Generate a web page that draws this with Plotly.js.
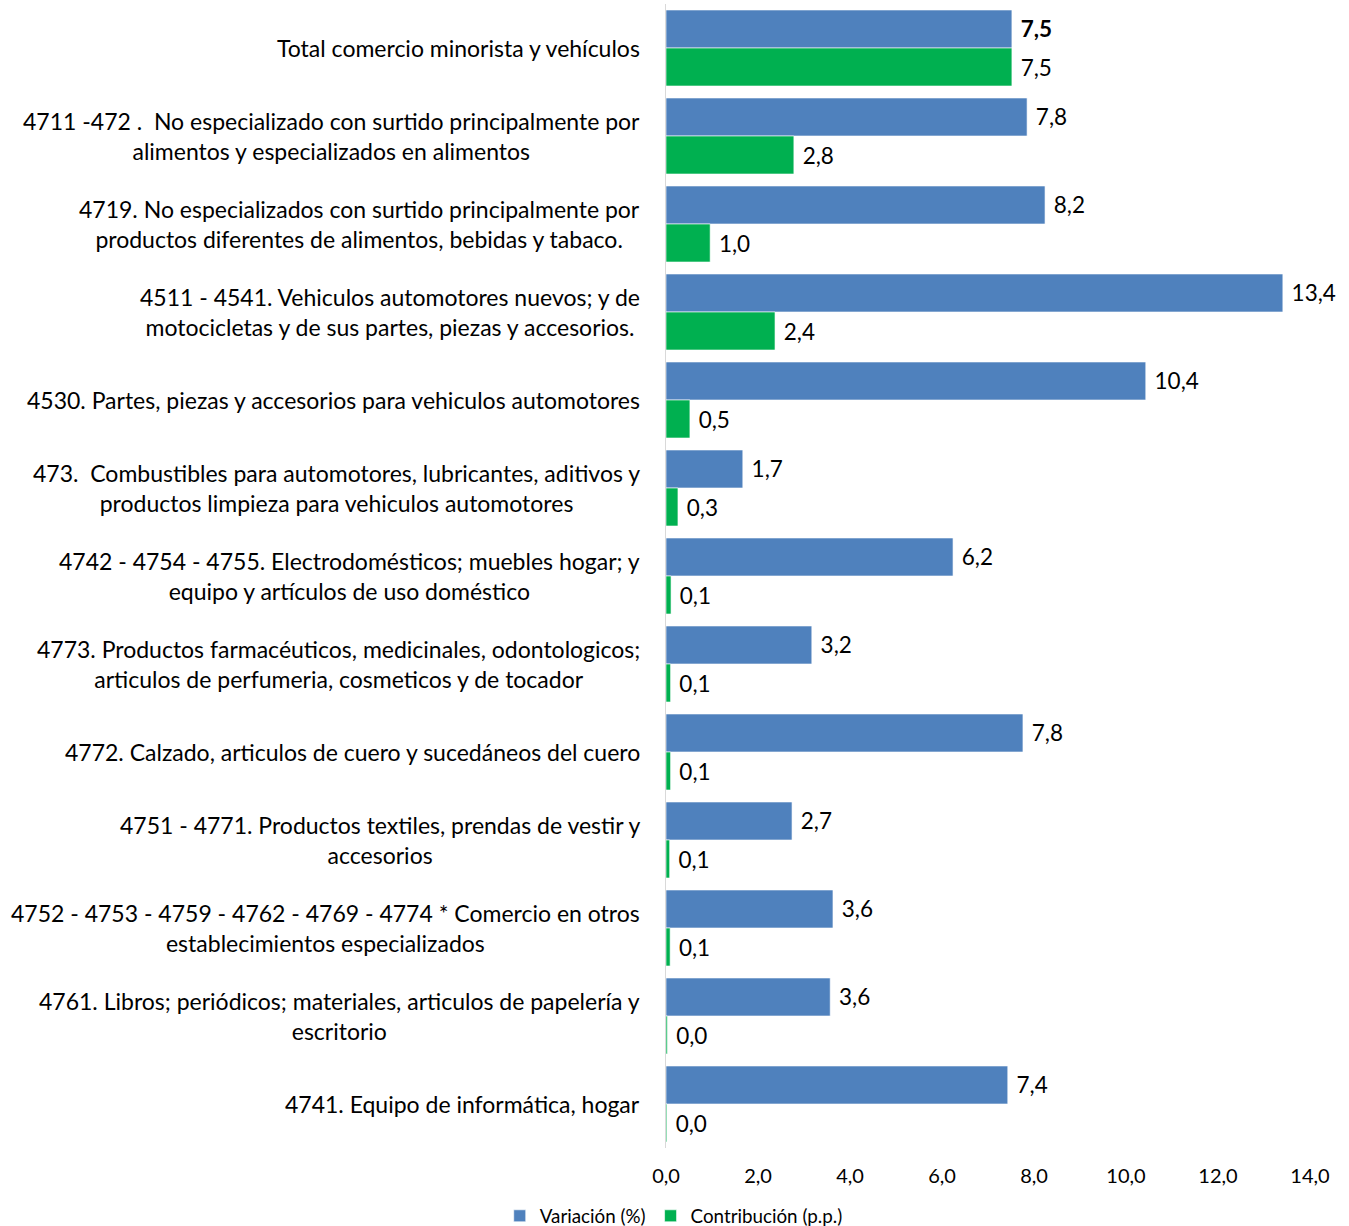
<!DOCTYPE html>
<html>
<head>
<meta charset="utf-8">
<script src="https://cdn.plot.ly/plotly-3.0.1.min.js"></script>
<style>html,body{margin:0;padding:0;background:#fff;}#chart{width:1349px;height:1226px;}</style>
</head>
<body>
<div id="chart"></div>
<script>
const categories = [
  "Total comercio minorista y vehículos",
  "4711 -472 .  No especializado con surtido principalmente por<br>alimentos y especializados en alimentos",
  "4719. No especializados con surtido principalmente por<br>productos diferentes de alimentos, bebidas y tabaco.",
  "4511 - 4541. Vehiculos automotores nuevos; y de<br>motocicletas y de sus partes, piezas y accesorios.",
  "4530. Partes, piezas y accesorios para vehiculos automotores",
  "473.  Combustibles para automotores, lubricantes, aditivos y<br>productos limpieza para vehiculos automotores",
  "4742 - 4754 - 4755. Electrodomésticos; muebles hogar; y<br>equipo y artículos de uso doméstico",
  "4773. Productos farmacéuticos, medicinales, odontologicos;<br>articulos de perfumeria, cosmeticos y de tocador",
  "4772. Calzado, articulos de cuero y sucedáneos del cuero",
  "4751 - 4771. Productos textiles, prendas de vestir y<br>accesorios",
  "4752 - 4753 - 4759 - 4762 - 4769 - 4774 * Comercio en otros<br>establecimientos especializados",
  "4761. Libros; periódicos; materiales, articulos de papelería y<br>escritorio",
  "4741. Equipo de informática, hogar"
];
const variacion = [7.52, 7.85, 8.24, 13.41, 10.43, 1.67, 6.24, 3.17, 7.76, 2.74, 3.63, 3.57, 7.43];
const contribucion = [7.52, 2.78, 0.96, 2.37, 0.52, 0.26, 0.11, 0.1, 0.1, 0.08, 0.09, 0.03, 0.02];
const seriesNames = ["Variación (%)", "Contribución (p.p.)"];
const xTicks = [0, 2, 4, 6, 8, 10, 12, 14];

const fmt = v => v.toFixed(1).replace('.', ',');
const pad = '\u00a0';
const varText = variacion.map((v, i) => pad + (i === 0 ? '<b>' + fmt(v) + '</b>' : fmt(v)));
const conText = contribucion.map(v => pad + fmt(v));

const FONT = 'Lato, "Open Sans", sans-serif';
const catFont = {family: FONT, size: 23, color: '#000'};
const valFont = {family: FONT, size: 22.5, color: '#000'};

const common = {
  type: 'bar', orientation: 'h', y: categories,
  textposition: 'outside', cliponaxis: false, constraintext: 'none',
  textfont: valFont, hoverinfo: 'x+name'
};
const traces = [
  Object.assign({}, common, {x: variacion, name: seriesNames[0], text: varText,
    marker: {color: '#4F81BD', line: {color: 'rgba(255,255,255,0.6)', width: 1}}}),
  Object.assign({}, common, {x: contribucion, name: seriesNames[1], text: conText,
    marker: {color: '#00B050', line: {color: 'rgba(255,255,255,0.6)', width: 1}}})
];

const annotations = categories.map(c => ({
  xref: 'paper', x: 0, xshift: -24, xanchor: 'right',
  yref: 'y', y: c, yanchor: 'middle',
  text: c, align: 'center', showarrow: false,
  font: catFont
}));

const layout = {
  width: 1349, height: 1226,
  margin: {l: 666, r: 39, t: 4, b: 78, autoexpand: false},
  paper_bgcolor: '#fff', plot_bgcolor: '#fff',
  font: {family: FONT, color: '#000'},
  separators: ',.',
  barmode: 'group', bargap: 0.136, bargroupgap: 0,
  showlegend: true,
  legend: {orientation: 'h', x: 0.012, xanchor: 'center', y: -0.0595, yanchor: 'middle',
    font: {family: FONT, size: 18.8, color: '#000'}, traceorder: 'normal', itemwidth: 30,
    bgcolor: 'rgba(0,0,0,0)'},
  xaxis: {range: [0, 14], tickvals: xTicks, tickformat: '.1f', showgrid: false, zeroline: false,
    showline: false, ticks: '', ticklabelstandoff: 14, tickfont: {family: FONT, size: 20, color: '#000'},
    fixedrange: true},
  yaxis: {autorange: 'reversed', showticklabels: false, ticks: '', showgrid: false, zeroline: false,
    showline: true, linecolor: '#d9d9d9', linewidth: 1, fixedrange: true},
  annotations: annotations
};

Plotly.newPlot('chart', traces, layout, {displayModeBar: false, staticPlot: true});
</script>
</body>
</html>
